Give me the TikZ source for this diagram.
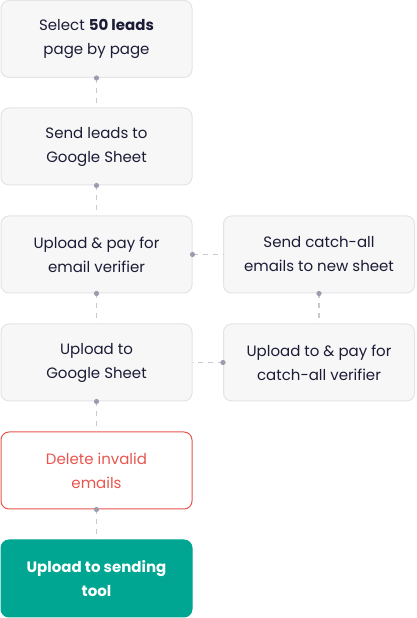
\documentclass[tikz,border=0pt]{standalone}
\usepackage{fontspec}
\setmainfont{Poppins}
\usetikzlibrary{positioning}

\begin{document}
\begin{tikzpicture}[x=1pt, y=1pt, font=\fontsize{15}{24}\selectfont]
\definecolor{ink}{HTML}{1B1B35}
\definecolor{boxfill}{HTML}{F7F7F8}
\definecolor{boxline}{HTML}{E4E4E8}
\definecolor{alert}{HTML}{E8554E}
\definecolor{teal}{HTML}{00A692}
\definecolor{dashgray}{HTML}{C9C9D2}
\definecolor{dotgray}{HTML}{9C9CAE}
\tikzset{
  stepbox/.style={draw=boxline, fill=boxfill, line width=1pt, rounded corners=8pt, minimum width=191pt, minimum height=77pt, align=center, text=ink},
  redbox/.style={stepbox, draw=alert, fill=white, text=alert},
  donebox/.style={stepbox, draw=teal, fill=teal, text=white, font=\fontsize{15}{24}\selectfont\bfseries},
  link/.style={draw=dashgray, line width=1.4pt, dash pattern=on 5pt off 5pt},
  knot/.style={fill=dotgray}
}
\useasboundingbox (0,0) rectangle (416,618);
% left column
\node[stepbox] (select) at (96.5,579) {Select \textbf{50 leads}\\page by page};
\node[stepbox] (send) at (96.5,471.5) {Send leads to\\Google Sheet};
\node[stepbox] (verify) at (96.5,363.5) {Upload \& pay for\\email verifier};
\node[stepbox] (upload) at (96.5,255.5) {Upload to\\Google Sheet};
\node[redbox] (delete) at (96.5,147.5) {Delete invalid\\emails};
\node[donebox] (sending) at (96.5,39.5) {Upload to sending\\tool};
% right column
\node[stepbox] (catchall) at (319,363.5) {Send catch-all\\emails to new sheet};
\node[stepbox] (catchverify) at (319,255.5) {Upload to \& pay for\\catch-all verifier};
% connectors
\foreach \a/\b in {select/send, send/verify, verify/upload, upload/delete, delete/sending, catchall/catchverify}{
  \draw[link] (\a.south) -- (\b.north);
  \fill[knot] (\a.south) circle (2.6);
}
\draw[link] (verify.east) -- (catchall.west);
\fill[knot] (verify.east) circle (2.6);
\draw[link] (catchverify.west) -- (upload.east);
\fill[knot] (catchverify.west) circle (2.6);
\end{tikzpicture}
\end{document}
